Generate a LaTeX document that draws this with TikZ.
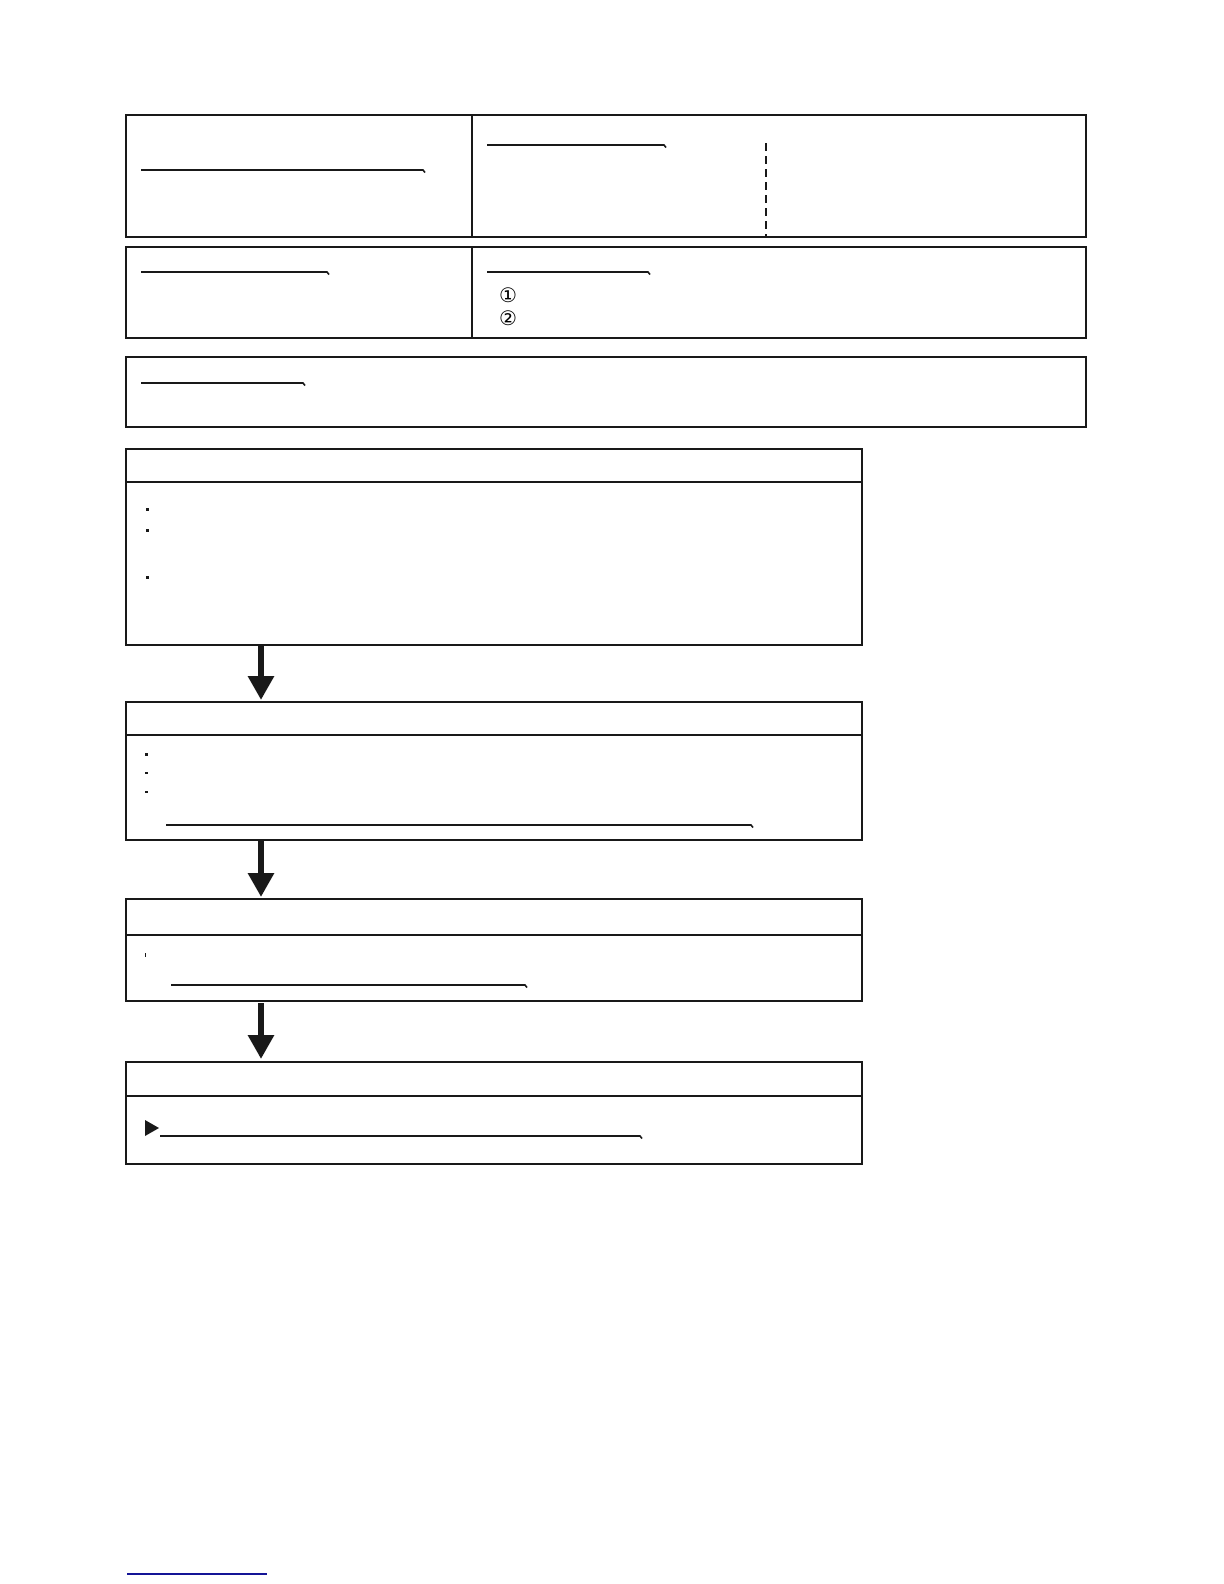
\documentclass[tikz,border=0pt]{standalone}
\usepackage{fontspec}
\newfontfamily\symfont{DejaVu Sans}
\usetikzlibrary{arrows.meta}
\definecolor{linkblue}{RGB}{20,20,150}
\definecolor{ink}{RGB}{25,25,25}
\begin{document}
\begin{tikzpicture}[x=0.5bp,y=-0.5bp,
  panel/.style={draw=ink,line width=1.4bp,inner sep=0pt,outer sep=0pt},
  stepbox/.style={draw=ink,line width=1bp,inner sep=0pt,outer sep=0pt,minimum width=368bp},
  uline/.style={draw=ink,line width=0.8bp},
  flow/.style={draw=ink,line width=3.2bp,-{Triangle[width=12.5bp,length=12bp]}},
  dot/.style={fill=ink}]
\useasboundingbox (0,0) rectangle (1224,1584);
% top panels
\node[panel,minimum width=480bp,minimum height=61bp] (A) at (606,176) {};
\node[panel,minimum width=480bp,minimum height=45.5bp] (B) at (606,292.5) {};
\node[draw=ink,line width=0.9bp,inner sep=0pt,outer sep=0pt,minimum width=480bp,minimum height=35bp] (C) at (606,392) {};
\draw[ink,line width=1.4bp] (C.north west) -- (C.north east);
% dividers
\coordinate (dv) at (472,0);
\draw[ink,line width=0.8bp] (A.north -| dv) -- (A.south -| dv);
\draw[ink,line width=0.8bp] (B.north -| dv) -- (B.south -| dv);
\coordinate (dd) at (766,143);
\draw[ink,line width=0.7bp,dash pattern=on 4bp off 2.5bp] (dd) -- (A.south -| dd);
% underlines in top panels
\draw[uline] (141,170) -- (423,170) -- (425,172.5);
\draw[uline] (487,145) -- (664,145) -- (666,147.5);
\draw[uline] (141,272) -- (327,272) -- (329,274.5);
\draw[uline] (487,272) -- (648,272) -- (650,274.5);
\draw[uline] (141,383) -- (303,383) -- (305,385.5);
\node[font=\symfont\fontsize{10bp}{11bp}\selectfont,inner sep=0pt] (n1) at (508,295) {①};
\node[font=\symfont\fontsize{10bp}{11bp}\selectfont,inner sep=0pt] (n2) at (508,318) {②};
% step boxes
\node[stepbox,minimum height=98bp] (D) at (494,547) {};
\node[stepbox,minimum height=69bp] (E) at (494,771) {};
\node[stepbox,minimum height=51bp] (F) at (494,950) {};
\node[stepbox,minimum height=51bp] (G) at (494,1113) {};
% header lines
\draw[ink,line width=1bp] (D.west |- 0,482) -- (D.east |- 0,482);
\draw[ink,line width=1bp] (E.west |- 0,735) -- (E.east |- 0,735);
\draw[ink,line width=1bp] (F.west |- 0,935) -- (F.east |- 0,935);
\draw[ink,line width=1.2bp] (G.west |- 0,1096) -- (G.east |- 0,1096);
% bullets
\fill[dot] (146,507.5) rectangle (148.5,510.5);
\fill[dot] (146,528.5) rectangle (148.5,531.5);
\fill[dot] (146,575.5) rectangle (148.5,578.5);
\fill[dot] (144.5,752.5) rectangle (147.5,755.5);
\fill[dot] (144.5,771.5) rectangle (147.5,774);
\fill[dot] (144.5,790.5) rectangle (147.5,793);
\fill[dot] (144.5,953) rectangle (145.8,957);
% underlines in step boxes
\draw[uline] (166,825) -- (751,825) -- (753,827.5);
\draw[uline] (171,985) -- (525,985) -- (527,987.5);
\draw[uline] (160,1136) -- (640,1136) -- (642,1138.5);
\fill[ink] (145,1120) -- (159,1128) -- (145,1136) -- cycle;
% arrows
\coordinate (ax) at (261,0);
\draw[flow] (D.south -| ax) -- ([yshift=1bp]E.north -| ax);
\draw[flow] ([yshift=-0.5bp]E.south -| ax) -- ([yshift=1bp]F.north -| ax);
\draw[flow] ([yshift=-1bp]F.south -| ax) -- ([yshift=1.5bp]G.north -| ax);
% bottom blue line
\coordinate (b1) at (127,1574);
\coordinate (b2) at (267,1574);
\draw[linkblue,line width=0.9bp] (b1) -- (b2);
\end{tikzpicture}
\end{document}
